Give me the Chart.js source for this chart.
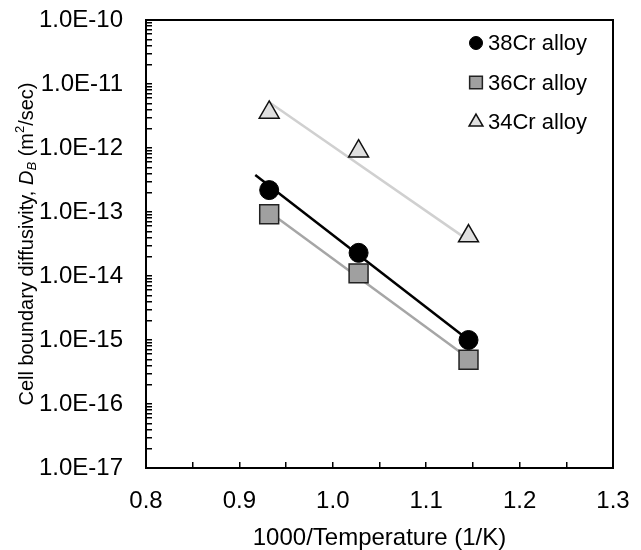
<!DOCTYPE html>
<html>
<head>
<meta charset="utf-8">
<script src="https://cdn.jsdelivr.net/npm/chart.js@4.4.0/dist/chart.umd.min.js"></script>
<style>
  body { margin: 0; background: #fff; }
</style>
</head>
<body>
<canvas id="myChart" width="641" height="550"></canvas>
<script>
// 1000/T for 800, 700 and 600 C
const invTemp = [0.9319, 1.0276, 1.1453];
const seriesNames = ["38Cr alloy", "36Cr alloy", "34Cr alloy"];
const cr38 = [2.2e-13, 2.3e-14, 1.0e-15];
const cr36 = [9.2e-14, 1.1e-14, 4.9e-16];
const cr34 = [3.6e-12, 8.9e-13, 4.2e-14];

// trend line ends
const fit38X = [0.917, 1.1453];
const fit38Y = [3.8e-13, 1.0e-15];
const fit36X = [0.9319, 1.1453];
const fit36Y = [1.0e-13, 5.2e-16];
const fit34X = [0.9319, 1.1453];
const fit34Y = [5.2e-12, 3.6e-14];

const yDecades = [-17, -16, -15, -14, -13, -12, -11, -10];
const yTickLabels = ["1.0E-17", "1.0E-16", "1.0E-15", "1.0E-14", "1.0E-13", "1.0E-12", "1.0E-11", "1.0E-10"];
const xTickLabels = ["0.8", "0.9", "1.0", "1.1", "1.2", "1.3"];

const FONT = '"Liberation Sans", Arial, sans-serif';
Chart.defaults.font.family = FONT;
Chart.defaults.font.size = 24;
Chart.defaults.color = "#000";

const pts = (xs, ys) => xs.map((x, i) => ({ x: x, y: ys[i] }));

const ctx = document.getElementById("myChart");

// box round the plot
const framePlugin = {
  id: "frame",
  afterDatasetsDraw(chart) {
    const { ctx, chartArea: a } = chart;
    ctx.save();
    ctx.strokeStyle = "#000";
    ctx.lineWidth = 2;
    ctx.strokeRect(a.left, a.top, a.right - a.left, a.bottom - a.top);
    ctx.restore();
  },
};

// legend sits inside the plot, top right
const legendPlugin = {
  id: "insideLegend",
  afterDraw(chart) {
    const { ctx, chartArea: a } = chart;
    const sizes = [6.5, 9, 8];
    ctx.save();
    ctx.font = "22px " + FONT;
    ctx.textBaseline = "middle";
    seriesNames.forEach((name, i) => {
      const ds = chart.data.datasets[i];
      const x = a.right - 137;
      const y = a.top + 23 + i * 39.5;
      ctx.fillStyle = ds.backgroundColor;
      ctx.strokeStyle = ds.borderColor;
      ctx.lineWidth = ds.borderWidth;
      Chart.helpers.drawPoint(ctx, { pointStyle: ds.pointStyle, radius: sizes[i], rotation: 0, borderWidth: ds.borderWidth }, x, y);
      ctx.fillStyle = "#000";
      ctx.fillText(name, x + 12, y + 1);
    });
    ctx.restore();
  },
};

// y title with italic D, subscript B and m squared
const yTitlePlugin = {
  id: "yTitle",
  afterDraw(chart) {
    const { ctx, chartArea: a } = chart;
    const parts = [
      { t: "Cell boundary diffusivity, ", f: "20px " + FONT, dy: 0 },
      { t: "D", f: "italic 20px " + FONT, dy: 0 },
      { t: "B", f: "italic 13px " + FONT, dy: 5 },
      { t: " (m", f: "20px " + FONT, dy: 0 },
      { t: "2", f: "13px " + FONT, dy: -7 },
      { t: "/sec)", f: "20px " + FONT, dy: 0 },
    ];
    ctx.save();
    let total = 0;
    parts.forEach((p) => {
      ctx.font = p.f;
      p.w = ctx.measureText(p.t).width;
      total += p.w;
    });
    ctx.translate(27, (a.top + a.bottom) / 2);
    ctx.rotate(-Math.PI / 2);
    ctx.textBaseline = "middle";
    ctx.fillStyle = "#000";
    let cx = -total / 2;
    parts.forEach((p) => {
      ctx.font = p.f;
      ctx.fillText(p.t, cx, p.dy);
      cx += p.w;
    });
    ctx.restore();
  },
};

const noEdgePad = (s) => {
  s.paddingTop = 0;
  s.paddingBottom = 0;
  s.paddingLeft = 0;
  s.paddingRight = 0;
};

new Chart(ctx, {
  type: "scatter",
  data: {
    datasets: [
      {
        label: seriesNames[0],
        data: pts(invTemp, cr38),
        pointStyle: "circle",
        pointRadius: 9.5,
        backgroundColor: "#000",
        borderColor: "#000",
        borderWidth: 1,
        order: 0,
      },
      {
        label: seriesNames[1],
        data: pts(invTemp, cr36),
        pointStyle: "rect",
        pointRadius: 13.4,
        backgroundColor: "#a0a0a0",
        borderColor: "#222",
        borderWidth: 1.5,
        order: 0,
      },
      {
        label: seriesNames[2],
        data: pts(invTemp, cr34),
        pointStyle: "triangle",
        pointRadius: 11.5,
        backgroundColor: "#e0e0e0",
        borderColor: "#111",
        borderWidth: 1.5,
        order: 0,
      },
      {
        label: "fit38",
        data: pts(fit38X, fit38Y),
        showLine: true,
        pointRadius: 0,
        borderColor: "#000",
        borderWidth: 2.5,
        order: 1,
      },
      {
        label: "fit36",
        data: pts(fit36X, fit36Y),
        showLine: true,
        pointRadius: 0,
        borderColor: "#a6a6a6",
        borderWidth: 2.5,
        order: 1,
      },
      {
        label: "fit34",
        data: pts(fit34X, fit34Y),
        showLine: true,
        pointRadius: 0,
        borderColor: "#d0d0d0",
        borderWidth: 2.5,
        order: 1,
      },
    ],
  },
  options: {
    responsive: false,
    animation: false,
    layout: { padding: { left: 0, right: 28, top: 20, bottom: 0 } },
    plugins: {
      legend: { display: false },
      tooltip: { enabled: false },
    },
    scales: {
      x: {
        type: "linear",
        min: 0.8,
        max: 1.3,
        afterFit: (s) => { s.height = 82; noEdgePad(s); },
        afterBuildTicks: (s) => {
          const t = [];
          for (let k = 0; k <= 10; k++) t.push({ value: 0.8 + k * 0.05 });
          s.ticks = t;
        },
        ticks: {
          autoSkip: false,
          maxRotation: 0,
          padding: 25,
          font: { size: 24 },
          callback: (v) => {
            const k = Math.round((v - 0.8) * 20);
            return k % 2 === 0 ? xTickLabels[k / 2] : "";
          },
        },
        grid: { drawOnChartArea: false, tickLength: -6, color: "#000", lineWidth: 1.5 },
        border: { color: "#000", width: 2 },
        title: {
          display: true,
          text: "1000/Temperature (1/K)",
          font: { size: 24 },
          padding: { top: 0, bottom: -3 },
        },
      },
      y: {
        type: "logarithmic",
        min: Math.pow(10, yDecades[0]),
        max: Math.pow(10, yDecades[yDecades.length - 1]),
        afterFit: (s) => { s.width = 146; noEdgePad(s); },
        afterBuildTicks: (s) => {
          const t = [];
          yDecades.forEach((e, i) => {
            const top = i === yDecades.length - 1 ? 1 : 9;
            for (let m = 1; m <= top; m++) t.push({ value: m * Math.pow(10, e), major: m === 1, label: m === 1 ? yTickLabels[i] : "" });
          });
          s.ticks = t;
        },
        ticks: {
          autoSkip: false,
          padding: 29,
          font: { size: 24 },
          callback: function (v, i, ticks) {
            return ticks[i].label;
          },
        },
        grid: { drawOnChartArea: false, tickLength: -6, color: "#000", lineWidth: 1.5 },
        border: { color: "#000", width: 2 },
      },
    },
  },
  plugins: [framePlugin, legendPlugin, yTitlePlugin],
});
</script>
</body>
</html>
